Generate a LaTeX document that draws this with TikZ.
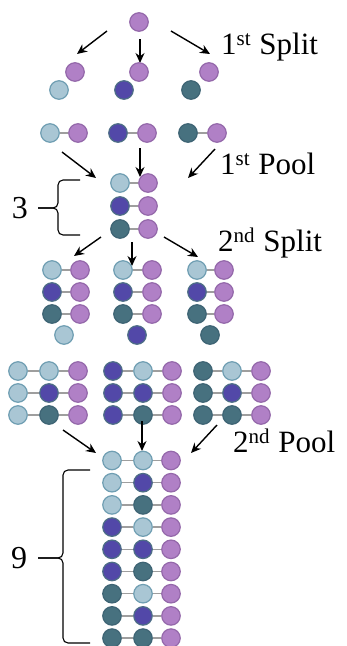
\documentclass[tikz,border=0pt]{standalone}
\usepackage{fontspec}
\setmainfont{Liberation Serif}
\usetikzlibrary{arrows.meta}
\definecolor{lbF}{HTML}{A9C6D4}\definecolor{lbD}{HTML}{6F9EB2}
\definecolor{dbF}{HTML}{5248A8}\definecolor{dbD}{HTML}{4D6E86}
\definecolor{tlF}{HTML}{47717F}\definecolor{tlD}{HTML}{3E6474}
\definecolor{ppF}{HTML}{B080C6}\definecolor{ppD}{HTML}{9468AA}
\definecolor{lnk}{HTML}{9E9E9E}
\newcommand\supr[1]{\raisebox{9pt}{\fontsize{21}{22}\selectfont #1}\hspace{1pt}}
\begin{document}
\begin{tikzpicture}[x=1pt,y=-1pt,
  bead/.style={circle,minimum size=18.5pt,inner sep=0pt,line width=1.2pt,fill=#1F,draw=#1D},
  link/.style={draw=lnk,line width=1.5pt},
  arr/.style={draw=black,line width=1.4pt,-{Stealth[length=10pt,width=9pt]}},
  lbl/.style={font=\fontsize{31}{34}\selectfont,inner sep=0pt,anchor=base west},
  num/.style={font=\fontsize{32}{34}\selectfont,inner sep=0pt},
  brc/.style={draw=black,line width=1.1pt,rounded corners=5pt}]
\useasboundingbox (0,0) rectangle (347,646);
% top
\node[bead=pp] (p0) at (139,22) {};
\coordinate (a1s) at (107,31); \coordinate (a1e) at (77,54);
\coordinate (a2s) at (140,39); \coordinate (a2e) at (140,63);
\coordinate (a3s) at (171,31); \coordinate (a3e) at (210,54);
\draw[arr] (a1s) -- (a1e); \draw[arr] (a2s) -- (a2e); \draw[arr] (a3s) -- (a3e);
\node[lbl] (t1) at (221,54) {1\supr{st} Split};
% first split
\node[bead=pp] (s1p) at (75,72) {}; \node[bead=lb] (s1c) at (59,90) {};
\node[bead=pp] (s2p) at (139,72) {}; \node[bead=db] (s2c) at (124,90) {};
\node[bead=pp] (s3p) at (209,72) {}; \node[bead=tl] (s3c) at (191,90) {};
% coupled pairs
\foreach \i/\xa/\xb/\col in {1/50/78/lb,2/118/147/db,3/188/217/tl}{
  \node[bead=\col] (q\i a) at (\xa,133) {};
  \node[bead=pp] (q\i b) at (\xb,133) {};
  \draw[link] (q\i a) -- (q\i b);
}
\coordinate (b1s) at (62,152); \coordinate (b1e) at (96,178);
\coordinate (b2s) at (140,148); \coordinate (b2e) at (140,177);
\coordinate (b3s) at (215,149); \coordinate (b3e) at (188,178);
\draw[arr] (b1s) -- (b1e); \draw[arr] (b2s) -- (b2e); \draw[arr] (b3s) -- (b3e);
\node[lbl] (t2) at (220,174) {1\supr{st} Pool};
% pool of 3
\foreach \r/\y/\col in {1/183/lb,2/206/db,3/229/tl}{
  \node[bead=\col] (k\r a) at (120,\y) {};
  \node[bead=pp] (k\r b) at (148,\y) {};
  \draw[link] (k\r a) -- (k\r b);
}
\draw[brc] (80,180) -- (58,180) -- (58,208) -- (38,208);
\draw[brc] (38,208) -- (58,208) -- (58,235) -- (80,235);
\node[num] (n3) at (20,208) {3};
% second split arrows
\coordinate (c1s) at (101,237); \coordinate (c1e) at (74,256);
\coordinate (c2s) at (132,242); \coordinate (c2e) at (132,266);
\coordinate (c3s) at (164,237); \coordinate (c3e) at (198,257);
\draw[arr] (c1s) -- (c1e); \draw[arr] (c2s) -- (c2e); \draw[arr] (c3s) -- (c3e);
\node[lbl] (t3) at (218,251) {2\supr{nd} Split};
% second split groups
\foreach \c/\xa/\xb/\xs/\sc in {1/52/80/64/lb,2/123/152/137/db,3/197/224/210/tl}{
  \foreach \r/\y/\col in {1/270/lb,2/292/db,3/314/tl}{
    \node[bead=\col] (g\c r\r a) at (\xa,\y) {};
    \node[bead=pp] (g\c r\r b) at (\xb,\y) {};
    \draw[link] (g\c r\r a) -- (g\c r\r b);
  }
  \node[bead=\sc] (g\c s) at (\xs,335) {};
}
% triples
\foreach \c/\xa/\xb/\xc/\fc in {1/18/49/78/lb,2/113/143/172/db,3/203/232/261/tl}{
  \foreach \r/\y/\col in {1/371/lb,2/393/db,3/415/tl}{
    \node[bead=\fc] (h\c r\r a) at (\xa,\y) {};
    \node[bead=\col] (h\c r\r b) at (\xb,\y) {};
    \node[bead=pp] (h\c r\r c) at (\xc,\y) {};
    \draw[link] (h\c r\r a) -- (h\c r\r b);
    \draw[link] (h\c r\r b) -- (h\c r\r c);
  }
}
\coordinate (d1s) at (63,430); \coordinate (d1e) at (96,453);
\coordinate (d2s) at (142,421); \coordinate (d2e) at (142,451);
\coordinate (d3s) at (217,425); \coordinate (d3e) at (191,453);
\draw[arr] (d1s) -- (d1e); \draw[arr] (d2s) -- (d2e); \draw[arr] (d3s) -- (d3e);
\node[lbl] (t4) at (233,452) {2\supr{nd} Pool};
% final pool of 9
\foreach \k/\ca/\cb in {1/lb/lb,2/lb/db,3/lb/tl,4/db/lb,5/db/db,6/db/tl,7/tl/lb,8/tl/db,9/tl/tl}{
  \pgfmathsetmacro\yy{460.5+22.2*(\k-1)}
  \node[bead=\ca] (f\k a) at (112,\yy) {};
  \node[bead=\cb] (f\k b) at (143,\yy) {};
  \node[bead=pp] (f\k c) at (171,\yy) {};
  \draw[link] (f\k a) -- (f\k b);
  \draw[link] (f\k b) -- (f\k c);
}
\draw[brc] (90,470) -- (63,470) -- (63,558) -- (38,558);
\draw[brc] (38,558) -- (63,558) -- (63,643) -- (90,643);
\node[num] (n9) at (19,558) {9};
\end{tikzpicture}
\end{document}
